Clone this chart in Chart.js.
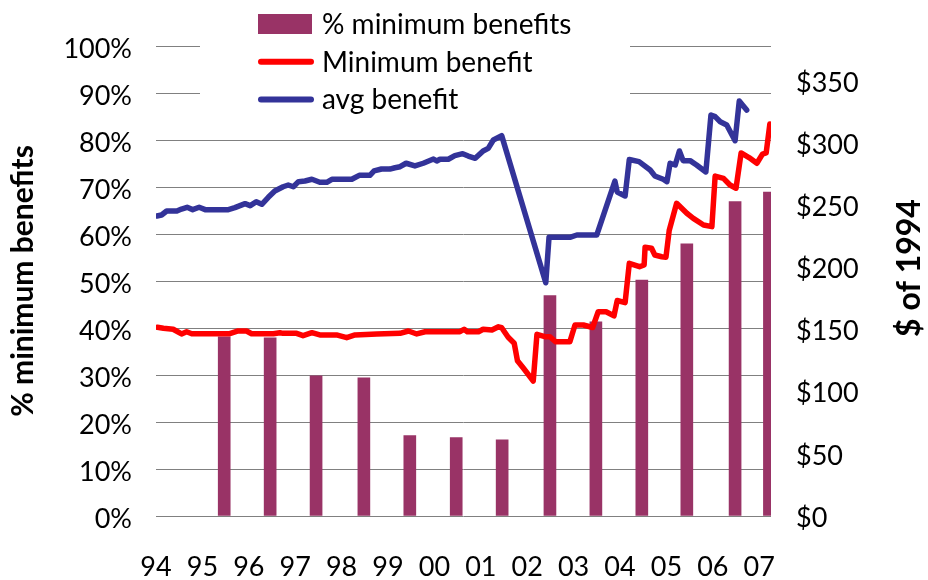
<!DOCTYPE html>
<html>
<head>
<meta charset="utf-8">
<title>Minimum benefits</title>
<script src="https://cdn.jsdelivr.net/npm/chart.js@4.4.0/dist/chart.umd.min.js"></script>
<style>
  html, body { margin: 0; padding: 0; background: #ffffff; }
  #chart-container { width: 928px; height: 580px; }
</style>
</head>
<body>
<div id="chart-container"><canvas id="myChart" width="928" height="580"></canvas></div>
<script>
// x axis: years, labelled with two digits
const yearLabels = ["94", "95", "96", "97", "98", "99", "00", "01", "02", "03", "04", "05", "06", "07"];
const pctTicks = [0, 10, 20, 30, 40, 50, 60, 70, 80, 90, 100];
const dollarTicks = [0, 50, 100, 150, 200, 250, 300, 350];

// % minimum benefits (bars, left axis)
const barYears = [1995.47, 1996.46, 1997.45, 1998.48, 1999.47, 2000.47, 2001.46, 2002.49, 2003.48, 2004.47, 2005.44, 2006.48, 2007.22];
const barShares = [38.1, 37.9, 29.8, 29.4, 17.1, 16.7, 16.2, 46.9, 41.3, 50.2, 57.9, 66.9, 68.9];

// Minimum benefit ($ of 1994, right axis)
const minYears = [1994.03, 1994.16, 1994.37, 1994.55, 1994.66, 1994.77, 1995.59, 1995.77, 1995.95, 1996.06, 1996.53, 1996.67, 1996.74, 1997.03, 1997.17, 1997.36, 1997.53, 1997.89, 1998.11, 1998.29, 1998.76, 1999.26, 1999.44, 1999.62, 1999.80, 2000.55, 2000.64, 2000.71, 2000.95, 2001.05, 2001.24, 2001.38, 2001.45, 2001.59, 2001.72, 2001.79, 2001.92, 2002.13, 2002.21, 2002.38, 2002.49, 2002.61, 2002.92, 2003.03, 2003.21, 2003.41, 2003.53, 2003.70, 2003.87, 2003.94, 2004.11, 2004.20, 2004.42, 2004.52, 2004.54, 2004.68, 2004.75, 2004.90, 2004.99, 2005.06, 2005.22, 2005.44, 2005.58, 2005.80, 2005.98, 2006.05, 2006.23, 2006.37, 2006.50, 2006.61, 2006.78, 2006.95, 2007.07, 2007.15, 2007.23];
const minValues = [151.8, 151.0, 150.2, 146.4, 148.2, 146.6, 146.6, 148.8, 148.8, 146.6, 146.6, 147.4, 146.9, 146.9, 145.0, 147.4, 145.6, 145.6, 143.4, 145.6, 146.4, 146.9, 148.8, 146.4, 148.2, 148.2, 150.2, 148.2, 148.2, 150.2, 149.6, 152.2, 151.4, 143.7, 138.9, 124.9, 118.8, 108.6, 146.1, 144.2, 144.2, 140.2, 140.2, 153.6, 153.6, 151.6, 164.3, 164.3, 160.9, 173.3, 171.6, 203.2, 200.5, 201.9, 216.1, 215.3, 209.9, 208.5, 208.1, 229.6, 251.5, 243.5, 239.4, 234.0, 232.7, 273.4, 271.6, 266.2, 263.6, 292.0, 288.3, 283.7, 291.1, 292.0, 315.3];

// avg benefit ($ of 1994, right axis)
const avgYears = [1994.02, 1994.12, 1994.23, 1994.45, 1994.55, 1994.67, 1994.79, 1994.93, 1995.06, 1995.56, 1995.70, 1995.92, 1996.03, 1996.16, 1996.28, 1996.42, 1996.56, 1996.74, 1996.85, 1996.96, 1997.07, 1997.21, 1997.36, 1997.53, 1997.68, 1997.79, 1998.22, 1998.38, 1998.61, 1998.70, 1998.86, 1999.04, 1999.15, 1999.26, 1999.39, 1999.58, 1999.76, 1999.98, 2000.05, 2000.12, 2000.30, 2000.44, 2000.61, 2000.73, 2000.88, 2001.05, 2001.16, 2001.27, 2001.45, 2002.40, 2002.47, 2002.92, 2003.07, 2003.50, 2003.89, 2003.94, 2004.11, 2004.20, 2004.41, 2004.65, 2004.75, 2004.93, 2005.01, 2005.08, 2005.19, 2005.28, 2005.36, 2005.51, 2005.65, 2005.85, 2005.96, 2006.05, 2006.16, 2006.30, 2006.48, 2006.57, 2006.64, 2006.73];
const avgValues = [241.3, 242.1, 245.3, 245.3, 246.9, 248.3, 246.4, 248.3, 246.4, 246.4, 248.0, 251.2, 249.6, 252.8, 250.7, 256.3, 261.4, 264.8, 266.2, 264.8, 268.9, 269.4, 270.8, 268.4, 268.4, 270.8, 270.8, 274.0, 274.0, 277.5, 279.1, 279.0, 280.1, 280.9, 283.7, 281.5, 283.7, 287.1, 285.5, 286.9, 286.9, 289.8, 291.4, 289.5, 287.7, 293.6, 295.7, 302.4, 305.9, 187.6, 224.1, 224.1, 226.0, 226.0, 269.4, 260.6, 257.4, 286.7, 285.0, 278.3, 273.5, 270.8, 268.9, 283.7, 282.3, 293.6, 285.8, 285.8, 282.3, 276.7, 322.5, 321.2, 317.1, 314.5, 301.8, 333.8, 330.6, 326.5];

const rightTitle = "$ of 1994";
const fontFamily = "Lato, 'Open Sans', sans-serif";

const zip = (xs, ys) => xs.map((x, i) => ({ x: x, y: ys[i] }));

// legend drawn inside the plot (over the top gridlines) + right axis title
const overlayPlugin = {
  id: "overlay",
  beforeDatasetsDraw(chart) {
    const ctx = chart.ctx;
    ctx.save();
    ctx.fillStyle = "#ffffff";
    ctx.fillRect(200, 0, 430, 118);
    ctx.restore();
  },
  afterDraw(chart) {
    const ctx = chart.ctx;
    ctx.save();
    ctx.font = "28px " + fontFamily;
    ctx.fillStyle = "#000000";
    ctx.textBaseline = "alphabetic";
    chart.data.datasets.forEach((ds, i) => {
      const cy = 24 + i * 37.7;
      if (ds.type === "line") {
        ctx.strokeStyle = ds.borderColor;
        ctx.lineWidth = 6;
        ctx.lineCap = "round";
        ctx.beginPath();
        ctx.moveTo(261, cy);
        ctx.lineTo(311, cy);
        ctx.stroke();
      } else {
        ctx.fillStyle = ds.backgroundColor;
        ctx.fillRect(258, cy - 10, 54, 20);
      }
      ctx.fillStyle = "#000000";
      ctx.fillText(ds.label, 322, cy + 10);
    });
    // right axis title reads bottom to top
    ctx.translate(910, 268);
    ctx.rotate(-Math.PI / 2);
    ctx.font = "bold 32px " + fontFamily;
    ctx.textAlign = "center";
    ctx.textBaseline = "middle";
    ctx.fillText(rightTitle, 0, 0);
    ctx.restore();
  },
};

const ctx = document.getElementById("myChart").getContext("2d");
const myChart = new Chart(ctx, {
  type: "bar",
  data: {
    datasets: [
      {
        type: "bar",
        label: "% minimum benefits",
        data: zip(barYears, barShares),
        backgroundColor: "#993366",
        barThickness: 12,
        yAxisID: "y",
        order: 3,
      },
      {
        type: "line",
        label: "Minimum benefit",
        data: zip(minYears, minValues),
        borderColor: "#ff0000",
        borderWidth: 5.5,
        borderCapStyle: "round",
        borderJoinStyle: "round",
        pointRadius: 0,
        tension: 0,
        yAxisID: "y1",
        order: 2,
      },
      {
        type: "line",
        label: "avg benefit",
        data: zip(avgYears, avgValues),
        borderColor: "#333399",
        borderWidth: 5.5,
        borderCapStyle: "round",
        borderJoinStyle: "round",
        pointRadius: 0,
        tension: 0,
        yAxisID: "y1",
        order: 1,
      },
    ],
  },
  options: {
    responsive: false,
    animation: false,
    layout: { padding: { top: 46, left: 0, right: 0, bottom: 0 } },
    plugins: {
      legend: { display: false },
      tooltip: { enabled: false },
    },
    scales: {
      x: {
        type: "linear",
        position: "bottom",
        min: 1994,
        max: 2007.254,
        offset: false,
        grid: { display: false, drawTicks: false },
        border: { display: false },
        afterBuildTicks: (scale) => {
          scale.ticks = yearLabels.map((_, i) => ({ value: 1994 + i }));
        },
        afterFit: (scale) => {
          scale.height = 64;
        },
        ticks: {
          autoSkip: false,
          maxRotation: 0,
          padding: 35,
          color: "#000000",
          font: { family: fontFamily, size: 27 },
          callback: (value) => yearLabels[Math.round(value) - 1994],
        },
      },
      y: {
        position: "left",
        min: 0,
        max: 100,
        grid: { color: "#808080", lineWidth: 1, drawTicks: false },
        border: { display: false },
        afterBuildTicks: (scale) => {
          scale.ticks = pctTicks.map((v) => ({ value: v }));
        },
        afterFit: (scale) => {
          scale.width = 156;
        },
        title: {
          display: true,
          text: "% minimum benefits",
          color: "#000000",
          font: { family: fontFamily, size: 30, weight: "bold" },
          padding: { top: 5, bottom: 0 },
        },
        ticks: {
          padding: 24,
          labelOffset: 3,
          color: "#000000",
          font: { family: fontFamily, size: 27 },
          callback: (value) => value + "%",
        },
      },
      y1: {
        position: "right",
        min: 0,
        max: 378,
        grid: { display: false, drawTicks: false },
        border: { display: false },
        afterBuildTicks: (scale) => {
          scale.ticks = dollarTicks.map((v) => ({ value: v }));
        },
        afterFit: (scale) => {
          scale.width = 157;
        },
        ticks: {
          padding: 25,
          labelOffset: 2,
          color: "#000000",
          font: { family: fontFamily, size: 27 },
          callback: (value) => "$" + value,
        },
      },
    },
  },
  plugins: [overlayPlugin],
});
</script>
</body>
</html>
